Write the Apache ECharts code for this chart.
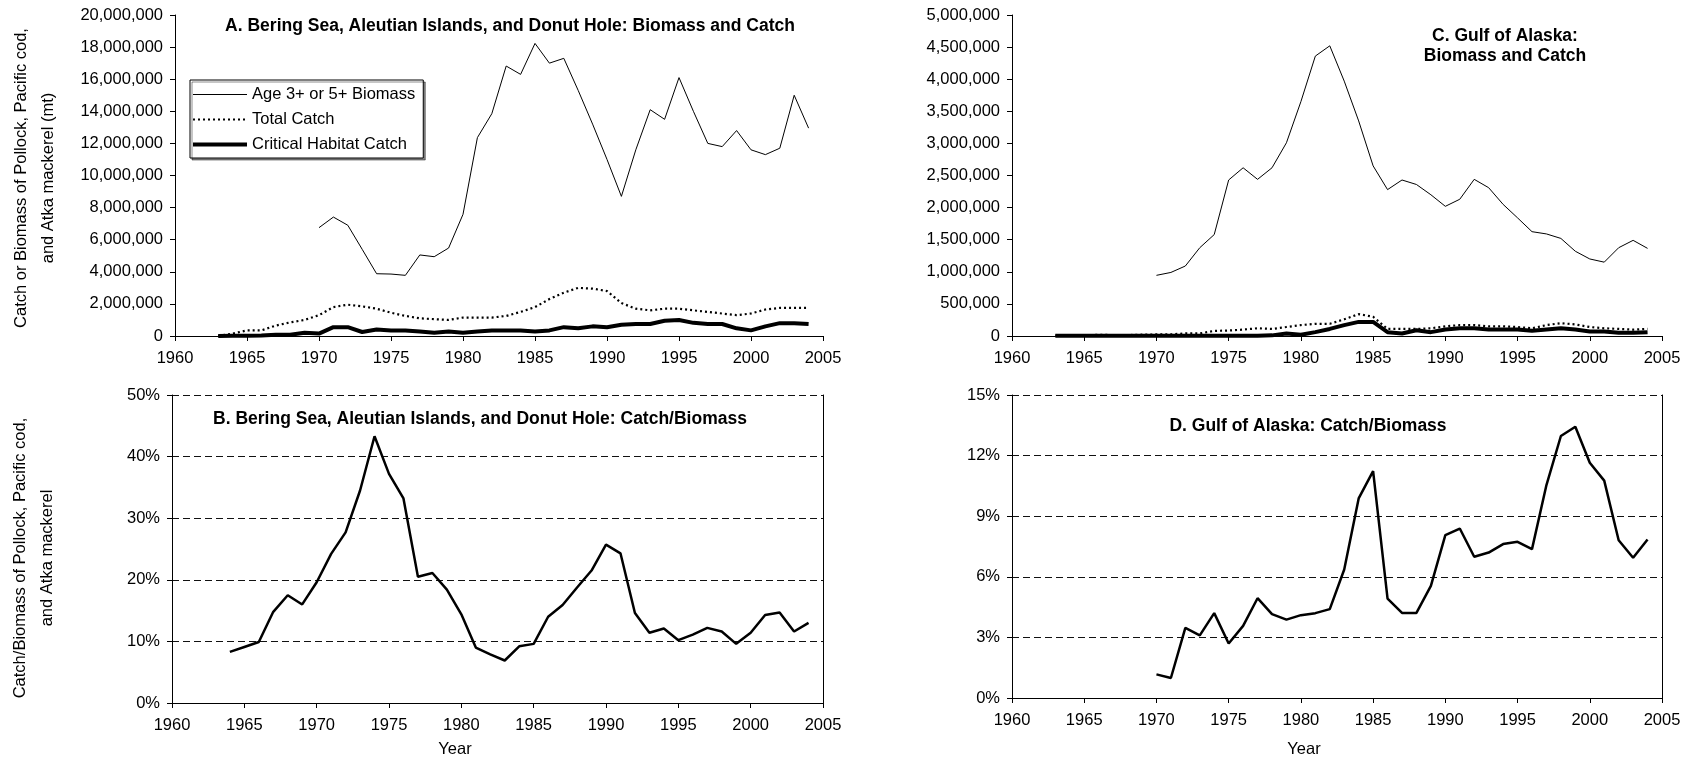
<!DOCTYPE html>
<html>
<head>
<meta charset="utf-8">
<script src="https://cdn.jsdelivr.net/npm/echarts@6/dist/echarts.min.js"></script>
<style>
html,body{margin:0;padding:0;background:#fff;}
#chart{width:1701px;height:758px;}
</style>
</head>
<body>
<div id="chart"></div>
<script>
// ---------- DATA ----------
const yearsCatch = [1963,1964,1965,1966,1967,1968,1969,1970,1971,1972,1973,1974,1975,1976,1977,1978,1979,1980,1981,1982,1983,1984,1985,1986,1987,1988,1989,1990,1991,1992,1993,1994,1995,1996,1997,1998,1999,2000,2001,2002,2003,2004];
const yearsBiomass = [1970,1971,1972,1973,1974,1975,1976,1977,1978,1979,1980,1981,1982,1983,1984,1985,1986,1987,1988,1989,1990,1991,1992,1993,1994,1995,1996,1997,1998,1999,2000,2001,2002,2003,2004];
const yearsRatioB = [1964,1965,1966,1967,1968,1969,1970,1971,1972,1973,1974,1975,1976,1977,1978,1979,1980,1981,1982,1983,1984,1985,1986,1987,1988,1989,1990,1991,1992,1993,1994,1995,1996,1997,1998,1999,2000,2001,2002,2003,2004];
const yearsRatioD = [1970,1971,1972,1973,1974,1975,1976,1977,1978,1979,1980,1981,1982,1983,1984,1985,1986,1987,1988,1989,1990,1991,1992,1993,1994,1995,1996,1997,1998,1999,2000,2001,2002,2003,2004];

// Panel A: Bering Sea, Aleutian Islands, Donut Hole (mt)
const bsaiBiomass = [6750000,7410000,6900000,5400000,3880000,3860000,3780000,5050000,4940000,5480000,7580000,12360000,13850000,16820000,16300000,18230000,17000000,17300000,15300000,13200000,11000000,8700000,11600000,14100000,13500000,16100000,14000000,12000000,11800000,12800000,11600000,11300000,11700000,15000000,12950000];
const bsaiTotalCatch = [0,150000,350000,350000,650000,850000,1000000,1300000,1800000,1950000,1850000,1700000,1450000,1250000,1100000,1050000,1000000,1150000,1150000,1150000,1250000,1500000,1800000,2300000,2700000,3000000,2950000,2800000,2050000,1700000,1600000,1700000,1700000,1600000,1500000,1400000,1300000,1400000,1650000,1750000,1750000,1750000];
const bsaiCHCatch = [0,20000,20000,30000,80000,80000,200000,150000,550000,550000,250000,400000,350000,350000,280000,200000,280000,200000,280000,350000,350000,350000,280000,350000,550000,480000,600000,550000,700000,750000,750000,950000,1000000,820000,750000,750000,480000,350000,600000,800000,800000,750000];

// Panel C: Gulf of Alaska (mt)
const goaBiomass = [945000,990000,1090000,1375000,1580000,2430000,2620000,2440000,2620000,3010000,3650000,4360000,4520000,3970000,3350000,2650000,2280000,2430000,2360000,2200000,2020000,2130000,2440000,2310000,2050000,1840000,1625000,1590000,1520000,1320000,1200000,1150000,1375000,1490000,1365000];
const goaTotalCatch = [5000,5000,10000,20000,15000,15000,20000,25000,25000,40000,40000,80000,85000,100000,120000,110000,140000,170000,190000,190000,260000,340000,300000,110000,110000,110000,120000,150000,170000,170000,150000,150000,140000,120000,170000,200000,180000,140000,120000,110000,100000,110000];
const goaCHCatch = [5000,5000,5000,5000,5000,5000,5000,5000,5000,5000,5000,5000,5000,5000,5000,10000,40000,20000,60000,110000,170000,220000,220000,60000,40000,90000,60000,100000,120000,120000,100000,100000,100000,80000,100000,120000,100000,70000,70000,50000,50000,60000];

// Panel B / D: Catch/Biomass (%)
const bsaiRatio = [8.3,9.1,9.9,14.8,17.5,16.0,19.6,24.2,27.7,34.5,43.3,37.2,33.2,20.5,21.1,18.4,14.4,9.0,7.9,6.9,9.2,9.6,14.0,15.9,18.75,21.5,25.7,24.3,14.6,11.4,12.1,10.2,11.1,12.2,11.6,9.6,11.4,14.3,14.7,11.6,13.0];
const goaRatio = [1.17,0.99,3.47,3.1,4.2,2.7,3.57,4.94,4.15,3.88,4.1,4.2,4.4,6.36,9.88,11.23,4.92,4.21,4.21,5.55,8.06,8.39,6.99,7.2,7.62,7.73,7.37,10.54,12.97,13.43,11.65,10.76,7.81,6.94,7.85];

const seriesNames = ['Age 3+ or 5+ Biomass','Total Catch','Critical Habitat Catch'];
const titleA = 'A. Bering Sea, Aleutian Islands, and Donut Hole: Biomass and Catch';
const titleC1 = 'C. Gulf of Alaska:';
const titleC2 = 'Biomass and Catch';
const titleB = 'B. Bering Sea, Aleutian Islands, and Donut Hole: Catch/Biomass';
const titleD = 'D. Gulf of Alaska: Catch/Biomass';
const yNameA1 = 'Catch or Biomass of Pollock, Pacific cod,';
const yNameA2 = 'and Atka mackerel (mt)';
const yNameB1 = 'Catch/Biomass of Pollock, Pacific cod,';
const yNameB2 = 'and Atka mackerel';
const xName = 'Year';

// ---------- CHART ----------
const FONT = 'Arial, "Liberation Sans", sans-serif';
const FS = 16.5;
const pair = (xs, ys) => xs.map((x, i) => [x, ys[i]]);
const fmtComma = v => Math.round(v).toString().replace(/\B(?=(\d{3})+(?!\d))/g, ',');

function xAxisDef(gi) {
  return {
    type: 'value', gridIndex: gi, min: 1960, max: 2005, interval: 5,
    axisLine: {show: true, onZero: false, lineStyle: {color: '#000', width: 1}},
    axisTick: {show: true, length: 5, lineStyle: {color: '#000'}},
    axisLabel: {color: '#000', fontSize: FS, fontFamily: FONT, margin: 14, formatter: v => String(v)},
    splitLine: {show: false}
  };
}
function yAxisDef(gi, min, max, interval, fmt, grid) {
  return {
    type: 'value', gridIndex: gi, min: min, max: max, interval: interval,
    axisLine: {show: true, lineStyle: {color: '#000', width: 1}},
    axisTick: {show: true, length: 5, lineStyle: {color: '#000'}},
    axisLabel: {color: '#000', fontSize: FS, fontFamily: FONT, margin: 12, formatter: fmt},
    splitLine: grid ? {show: true, lineStyle: {color: '#111', type: [7, 4], width: 1}} : {show: false}
  };
}
function rightBorder(gi, min, max) {
  return {
    type: 'value', gridIndex: gi, min: min, max: max, position: 'right',
    axisLine: {show: true, lineStyle: {color: '#000', width: 1}},
    axisTick: {show: false}, axisLabel: {show: false}, splitLine: {show: false}
  };
}

const thin = {color: '#000', width: 1};
const dotted = {color: '#000', width: 2.2, type: [2, 3]};
const thick = {color: '#000', width: 4};
const ratioLine = {color: '#000', width: 2.5};

function line(name, xi, yi, data, style, z) {
  return {
    name: name, type: 'line', xAxisIndex: xi, yAxisIndex: yi, data: data,
    symbol: 'none', showSymbol: false, lineStyle: style, itemStyle: {color: '#000'},
    silent: true, animation: false, z: z || 2
  };
}

function text(x, y, str, opts) {
  return {
    type: 'text', x: x, y: y, silent: true,
    style: Object.assign({text: str, fill: '#000', font: `${FS}px ${FONT}`, align: 'center', verticalAlign: 'middle'}, opts || {})
  };
}

const boldFont = `bold 17.5px ${FONT}`;
const hiddenSymbol = {opacity: 0, borderWidth: 0};

const option = {
  backgroundColor: '#fff',
  animation: false,
  grid: [
    {left: 175, top: 15, width: 648, height: 321},
    {left: 1012, top: 15, width: 650, height: 321},
    {left: 172, top: 395, width: 651, height: 308},
    {left: 1012, top: 395, width: 650, height: 303}
  ],
  xAxis: [xAxisDef(0), xAxisDef(1), xAxisDef(2), xAxisDef(3)],
  yAxis: [
    yAxisDef(0, 0, 20000000, 2000000, fmtComma, false),
    yAxisDef(1, 0, 5000000, 500000, fmtComma, false),
    yAxisDef(2, 0, 50, 10, v => v + '%', true),
    yAxisDef(3, 0, 15, 3, v => v + '%', true),
    rightBorder(2, 0, 50),
    rightBorder(3, 0, 15)
  ],
  legend: {
    data: [
      {name: seriesNames[0], itemStyle: hiddenSymbol, lineStyle: {color: '#000', width: 1, type: 'solid'}},
      {name: seriesNames[1], itemStyle: hiddenSymbol, lineStyle: {color: '#000', width: 2.2, type: [2, 3]}},
      {name: seriesNames[2], itemStyle: hiddenSymbol, lineStyle: {color: '#000', width: 4, type: 'solid'}}
    ],
    left: 190, top: 80, orient: 'vertical',
    itemWidth: 54, itemHeight: 16, itemGap: 8,
    padding: [6, 8, 5, 1],
    borderColor: '#000', borderWidth: 1, backgroundColor: '#fff',
    shadowColor: 'rgba(0,0,0,0.45)', shadowOffsetX: 2, shadowOffsetY: 2, shadowBlur: 0,
    textStyle: {color: '#000', fontSize: FS, fontFamily: FONT},
    selectedMode: false
  },
  series: [
    line(seriesNames[0], 0, 0, pair(yearsBiomass, bsaiBiomass), thin),
    line(seriesNames[1], 0, 0, pair(yearsCatch, bsaiTotalCatch), dotted),
    line(seriesNames[2], 0, 0, pair(yearsCatch, bsaiCHCatch), thick, 3),
    line('GOA Biomass', 1, 1, pair(yearsBiomass, goaBiomass), thin),
    line('GOA Total Catch', 1, 1, pair(yearsCatch, goaTotalCatch), dotted),
    line('GOA Critical Habitat Catch', 1, 1, pair(yearsCatch, goaCHCatch), thick, 3),
    line('BSAI Catch/Biomass', 2, 2, pair(yearsRatioB, bsaiRatio), ratioLine),
    line('GOA Catch/Biomass', 3, 3, pair(yearsRatioD, goaRatio), ratioLine)
  ],
  graphic: [
    text(510, 26.5, titleA, {font: boldFont}),
    text(1505, 36.5, titleC1, {font: boldFont}),
    text(1505, 56, titleC2, {font: boldFont}),
    text(480, 419, titleB, {font: boldFont}),
    text(1308, 426, titleD, {font: boldFont}),
    text(455, 749, xName),
    text(1304, 749, xName),
    Object.assign(text(21, 178, yNameA1), {rotation: Math.PI / 2}),
    Object.assign(text(48, 178, yNameA2), {rotation: Math.PI / 2}),
    Object.assign(text(20, 558, yNameB1), {rotation: Math.PI / 2}),
    Object.assign(text(47, 558, yNameB2), {rotation: Math.PI / 2})
  ]
};

const chart = echarts.init(document.getElementById('chart'), null, {renderer: 'canvas'});
chart.setOption(option);
</script>
</body>
</html>
